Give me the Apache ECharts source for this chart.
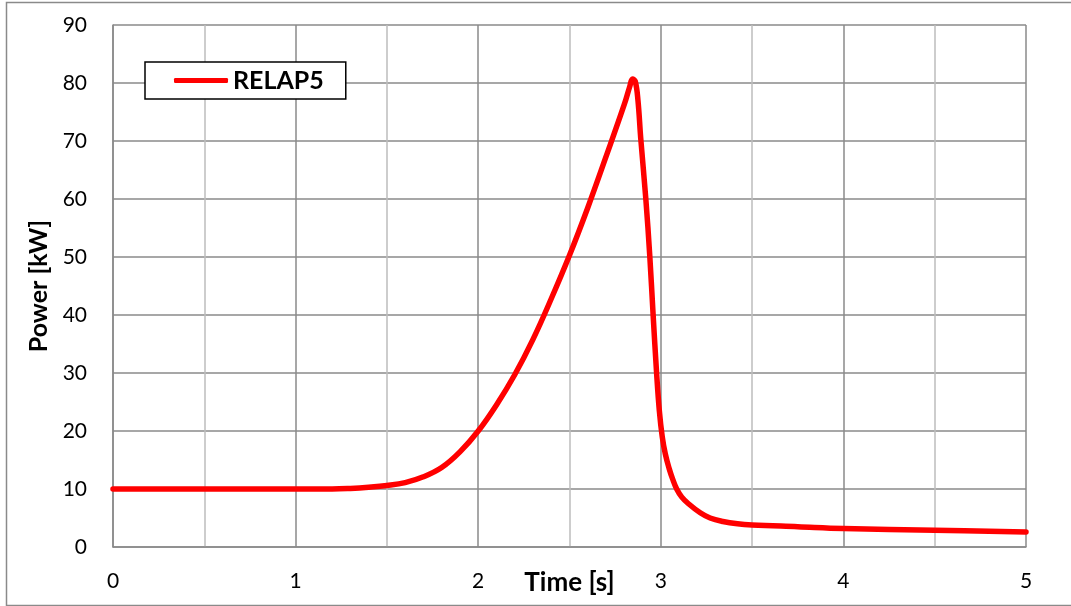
<!DOCTYPE html>
<html>
<head>
<meta charset="utf-8">
<script src="https://cdn.jsdelivr.net/npm/echarts@6/dist/echarts.min.js"></script>
<style>
  html, body { margin: 0; padding: 0; background: #fff; }
  #chart { width: 1071px; height: 606px; }
</style>
</head>
<body>
<div id="chart"></div>
<script>
// Reactor power transient computed with RELAP5
const seriesName = 'RELAP5';
const time = [0, 0.5, 1.0, 1.2, 1.3, 1.4, 1.5, 1.6, 1.7, 1.8, 1.9, 2.0, 2.1, 2.2, 2.3, 2.4, 2.5, 2.6, 2.7, 2.8, 2.83, 2.845, 2.86, 2.875, 2.89, 2.918, 2.94, 2.958, 2.977, 2.992, 3.008, 3.025, 3.045, 3.065, 3.087, 3.115, 3.15, 3.216, 3.27, 3.34, 3.42, 3.5, 3.75, 4.0, 4.5, 5.0];
const power = [10, 10, 10, 10, 10.1, 10.3, 10.6, 11.1, 12.1, 13.7, 16.4, 20.0, 24.5, 29.7, 35.8, 42.8, 50.3, 58.5, 67.3, 76.3, 79.4, 80.7, 80.3, 77, 70.5, 60, 50, 40, 30, 23.5, 19, 16, 13.6, 11.7, 10, 8.6, 7.5, 5.9, 5.0, 4.4, 4.0, 3.8, 3.5, 3.2, 2.9, 2.6];
const xTicks = { min: 0, max: 5, step: 0.5 };
const yTicks = { min: 0, max: 90, step: 10 };

const points = time.map((t, i) => [t, power[i]]);
const font = 'Lato, "Open Sans", sans-serif';

const chart = echarts.init(document.getElementById('chart'), null, { renderer: 'canvas' });
chart.setOption({
  animation: false,
  backgroundColor: '#ffffff',
  graphic: [{
    type: 'rect',
    shape: { x: 6.5, y: 2.5, width: 1100, height: 603 },
    style: { fill: 'none', stroke: '#8a8a8a', lineWidth: 1.5 },
    silent: true
  }],
  grid: { left: 113, top: 25, right: 45, bottom: 59, containLabel: false, outerBoundsMode: 'none' },
  legend: {
    left: 145, top: 62,
    padding: [6, 22, 6, 29],
    itemWidth: 54, itemHeight: 5, itemGap: 0,
    icon: 'roundRect',
    borderColor: '#000', borderWidth: 1.5,
    backgroundColor: '#fff',
    textStyle: { fontFamily: font, fontWeight: 'bold', fontSize: 25, color: '#000' },
    data: [{ name: seriesName }]
  },
  xAxis: {
    type: 'value',
    min: xTicks.min, max: xTicks.max, interval: xTicks.step,
    name: 'Time [s]', nameLocation: 'middle', nameGap: 36, nameMoveOverlap: false,
    nameTextStyle: { fontFamily: font, fontWeight: 'bold', fontSize: 26, color: '#000', verticalAlign: 'middle' },
    axisLine: { show: true, lineStyle: { color: '#8a8a8a', width: 1.5 } },
    axisTick: { show: false },
    axisLabel: {
      margin: 24, fontFamily: font, fontSize: 21, color: '#000',
      formatter: v => (Math.abs(v - Math.round(v)) < 1e-9 ? String(Math.round(v)) : '')
    },
    splitLine: { show: true, lineStyle: { color: ['#8a8a8a', '#bdbdbd'], width: 1.5 } }
  },
  yAxis: {
    type: 'value',
    min: yTicks.min, max: yTicks.max, interval: yTicks.step,
    name: 'Power [kW]', nameLocation: 'middle', nameGap: 62, nameMoveOverlap: false,
    nameTextStyle: { fontFamily: font, fontWeight: 'bold', fontSize: 25, color: '#000' },
    axisLine: { show: true, lineStyle: { color: '#8a8a8a', width: 1.5 } },
    axisTick: { show: false },
    axisLabel: { margin: 26, fontFamily: font, fontSize: 21, color: '#000' },
    splitLine: { show: true, lineStyle: { color: '#8a8a8a', width: 1.5 } }
  },
  series: [{
    name: seriesName,
    type: 'line',
    data: points,
    symbol: 'none',
    smooth: 0.4,
    lineStyle: { color: '#ff0000', width: 5.5, cap: 'round', join: 'round' },
    itemStyle: { color: '#ff0000' },
    z: 5
  }]
});
</script>
</body>
</html>
